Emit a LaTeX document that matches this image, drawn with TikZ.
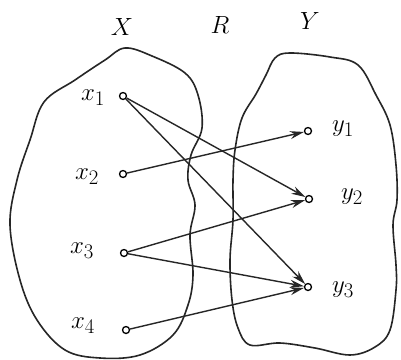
\documentclass[tikz,border=0pt]{standalone}
\usetikzlibrary{arrows.meta}
\begin{document}
\begin{tikzpicture}[x=1pt,y=-1pt,
  blob/.style={line width=1.6pt,line join=round,draw=black!85},
  pt/.style={circle,draw,line width=1.3pt,inner sep=0pt,minimum size=7pt,fill=white},
  lab/.style={font=\fontsize{29}{29}\selectfont},
  arr/.style={line width=1.4pt,draw=black!85,-{Stealth[length=14pt,width=8pt]}}]
\useasboundingbox (0,0) rectangle (401,359);
\fill[white] (0,0) rectangle (401,359);
\draw[blob] plot[smooth cycle,tension=0.6] coordinates {
 (125,48) (152,56) (185,73) (198,95) (202,128) (191,155) (188,180) (195,205)
 (190,235) (193,275) (188,305) (173,335) (140,355) (100,358) (65,350) (37,320)
 (20,280) (10,225) (17,180) (30,140) (44,102) (75,80) (105,60)};
\draw[blob] plot[smooth cycle,tension=0.6] coordinates {
 (290,53) (330,57) (358,65) (376,95) (390,125) (396,165) (397,200) (393,225)
 (396,265) (396,290) (390,330) (375,347) (350,355) (315,348) (280,343) (250,345)
 (238,328) (232,300) (230,260) (233,220) (233,180) (235,150) (242,118) (256,94)
 (266,75) (275,58)};
\node[pt] (a1) at (123,96) {};
\node[pt] (a2) at (123,174) {};
\node[pt] (a3) at (124,253) {};
\node[pt] (a4) at (126,330) {};
\node[pt] (b1) at (308,131) {};
\node[pt] (b2) at (309,199) {};
\node[pt] (b3) at (308,287) {};
\node[lab] (lx1) at (93,98) {$x_1$};
\node[lab] (lx2) at (87,177) {$x_2$};
\node[lab] (lx3) at (82,251) {$x_3$};
\node[lab] (lx4) at (83,326) {$x_4$};
\node[lab] (ly1) at (343,129) {$y_1$};
\node[lab] (ly2) at (352,197) {$y_2$};
\node[lab] (ly3) at (343,290) {$y_3$};
\node[lab] (lX) at (122,27) {$X$};
\node[lab] (lR) at (220,25) {$R$};
\node[lab] (lY) at (310,21) {$Y$};
\draw[arr] (a1) -- (b2);
\draw[arr] (a1) -- (b3);
\draw[arr] (a2) -- (b1);
\draw[arr] (a3) -- (b2);
\draw[arr] (a3) -- (b3);
\draw[arr] (a4) -- (b3);
\end{tikzpicture}
\end{document}
